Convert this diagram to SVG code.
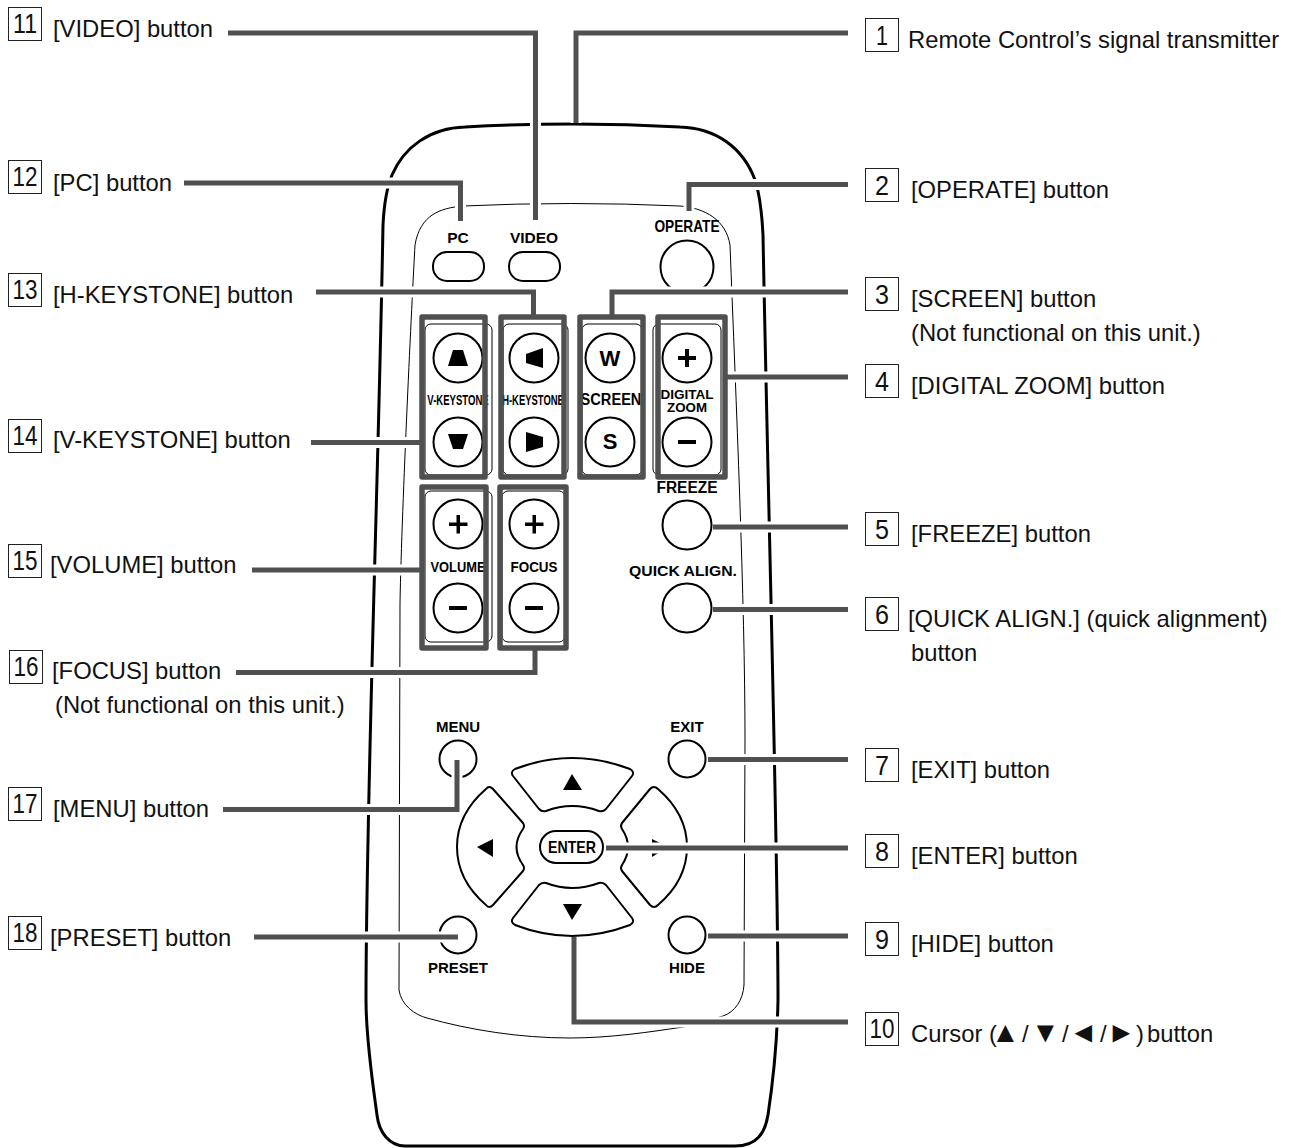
<svg xmlns="http://www.w3.org/2000/svg" width="1297" height="1148" viewBox="0 0 1297 1148">
<style>
text{font-family:"Liberation Sans",Arial,sans-serif;fill:#111}
.l{font-size:23.8px}
.t{font-size:29px}
.n{font-size:27px;text-anchor:middle}
.box{fill:none;stroke:#222;stroke-width:1}
.b{font-weight:bold;text-anchor:middle;fill:#000}
.o{fill:#fff;stroke:#000;stroke-width:2}
.f{fill:#000;stroke:none}
.p{fill:none;stroke:#000;stroke-width:1}
.h{fill:none;stroke:#fff;stroke-width:11}
.c{fill:none;stroke:#505050;stroke-width:5}
.g{fill:none;stroke:#505050;stroke-width:5.5;stroke-linejoin:round}
</style>
<rect width="1297" height="1148" fill="#fff"/>
<g id="body">
<path d="M383,225 C384,205 387,187 392,175 C404,147 430,128 465,127 Q575,121 680,127 C715,128 743,147 755,180 C760,195 762,215 763,235 C768,500 778,850 778,1000 C777,1050 771,1095 768,1115 C765,1133 757,1146 735,1146 L405,1146 C390,1146 379,1133 377,1115 C373,1085 366,1040 366,1000 C366,800 378,500 383,225 Z" fill="none" stroke="#000" stroke-width="3"/>
<path class="p" d="M463,206 Q570,201 680,206 C705,208 726,220 730,245 C736,400 745,600 745,740 L744,985 C743,1000 735,1012 723,1016 C710,1020 700,1024 683,1027 C650,1032 610,1038 570,1038 C520,1038 470,1030 427,1018 C415,1015 401,1005 399,990 L400,603 C402,500 412,300 415,245 C420,215 440,208 463,206 Z"/>
<rect class="p" x="425" y="324" width="67" height="151" rx="6"/>
<rect class="p" x="503" y="324" width="65" height="151" rx="6"/>
<rect class="p" x="582" y="324" width="60" height="151" rx="6"/>
<rect class="p" x="653" y="324" width="68" height="151" rx="6"/>
<rect class="p" x="425" y="491" width="67" height="151" rx="6"/>
<rect class="p" x="502" y="491" width="63" height="151" rx="6"/>
</g>
<g id="btn-pc"><text class="b" x="458" y="243" font-size="15.5">PC</text><rect class="o" x="433" y="252" width="51" height="29" rx="14"/></g>
<g id="btn-video"><text class="b" x="534" y="243" font-size="15.5">VIDEO</text><rect class="o" x="509" y="252" width="51" height="29" rx="14"/></g>
<g id="btn-operate"><text class="b" x="687" y="232" font-size="17" textLength="65" lengthAdjust="spacingAndGlyphs">OPERATE</text><circle class="o" cx="687" cy="267" r="26.5"/></g>
<g id="btn-vkeystone"><circle class="o" cx="458" cy="358" r="24.5"/><path class="f" d="M448,366 L468,366 L463,350 L453,350 Z"/><text class="b" transform="translate(458,405) scale(.636,1)" font-size="15">V-KEYSTONE</text><circle class="o" cx="458" cy="442" r="24.5"/><path class="f" d="M448,434 L468,434 L463,449 L453,449 Z"/></g>
<g id="btn-hkeystone"><circle class="o" cx="534" cy="358" r="24.5"/><path class="f" d="M543,348 L543,368 L526,363 L526,354 Z"/><text class="b" transform="translate(533,405) scale(.63,1)" font-size="15">H-KEYSTONE</text><circle class="o" cx="534" cy="442" r="24.5"/><path class="f" d="M526,432 L543,437 L543,447 L526,452 Z"/></g>
<g id="btn-screen"><circle class="o" cx="610" cy="358" r="24.5"/><text class="b" x="610" y="366" font-size="22">W</text><text class="b" transform="translate(611,405) scale(.913,1)" font-size="16">SCREEN</text><circle class="o" cx="610" cy="442" r="24.5"/><text class="b" x="610" y="449" font-size="22">S</text></g>
<g id="btn-zoom"><circle class="o" cx="687" cy="358" r="24.5"/><path class="f" d="M685,349 h4 v7 h7 v4 h-7 v7 h-4 v-7 h-7 v-4 h7 Z"/><text class="b" x="687" y="399" font-size="12.6" textLength="53" lengthAdjust="spacingAndGlyphs">DIGITAL</text><text class="b" x="687" y="412" font-size="12.6" textLength="40" lengthAdjust="spacingAndGlyphs">ZOOM</text><circle class="o" cx="687" cy="442" r="24.5"/><rect class="f" x="678" y="440" width="18" height="4"/></g>
<g id="btn-volume"><circle class="o" cx="458" cy="524" r="24.5"/><path class="f" d="M456.5,515 h3.5 v7.5 h7.5 v3.5 h-7.5 v7.5 h-3.5 v-7.500 h-7.5 v-3.5 h7.5 Z"/><text class="b" x="458" y="572" font-size="15" textLength="55" lengthAdjust="spacingAndGlyphs">VOLUME</text><circle class="o" cx="458" cy="608" r="24.5"/><rect class="f" x="449" y="606" width="18" height="4"/></g>
<g id="btn-focus"><circle class="o" cx="534" cy="524" r="24.5"/><path class="f" d="M532.5,515 h3.5 v7.5 h7.5 v3.5 h-7.5 v7.5 h-3.5 v-7.500 h-7.5 v-3.5 h7.5 Z"/><text class="b" x="534" y="572" font-size="15" textLength="47" lengthAdjust="spacingAndGlyphs">FOCUS</text><circle class="o" cx="534" cy="608" r="24.5"/><rect class="f" x="525" y="606" width="18" height="4"/></g>
<g id="btn-freeze"><text class="b" x="687" y="493" font-size="16" textLength="61" lengthAdjust="spacingAndGlyphs">FREEZE</text><circle class="o" cx="687" cy="525" r="24.5"/></g>
<g id="btn-quick"><text class="b" x="683" y="576" font-size="15.5" textLength="108" lengthAdjust="spacingAndGlyphs">QUICK ALIGN.</text><circle class="o" cx="687" cy="608" r="24.5"/></g>
<g id="btn-menu"><text class="b" x="458" y="732" font-size="15">MENU</text><circle class="o" cx="458" cy="759" r="18.5"/></g>
<g id="btn-exit"><text class="b" x="687" y="732" font-size="15">EXIT</text><circle class="o" cx="687" cy="759" r="18.5"/></g>
<g id="btn-preset"><circle class="o" cx="458" cy="935" r="18.5"/><text class="b" x="458" y="973" font-size="15">PRESET</text></g>
<g id="btn-hide"><circle class="o" cx="687" cy="935" r="18.5"/><text class="b" x="687" y="973" font-size="15">HIDE</text></g>
<g id="btn-cursor">
<path class="o" stroke-linejoin="round" d="M515,769 Q572,747 630,769 Q635,772 632,776 L606,809 Q603,812 599,811 Q572,801 546,811 Q542,812 539,809 L513,776 Q510,772 515,769 Z"/>
<path class="f" d="M563,790 L582,790 L572,774 Z"/>
<path class="o" stroke-linejoin="round" d="M515,925 Q572,947 630,925 Q635,922 632,918 L606,885 Q603,882 599,883 Q572,893 546,883 Q542,882 539,885 L513,918 Q510,922 515,925 Z"/>
<path class="f" d="M563,904 L582,904 L572,920 Z"/>
<path class="o" stroke-linejoin="round" d="M486,789 Q489,785 493,789 L523,823 Q525,826 523,829 Q510,847 523,865 Q525,868 523,871 L493,905 Q489,909 486,905 Q457,880 457,847 Q457,814 486,789 Z"/>
<path class="f" d="M477,847 L493,839 L493,857 Z"/>
<path class="o" stroke-linejoin="round" d="M658,789 Q654,785 650,789 L622,823 Q620,826 622,829 Q634,847 622,865 Q620,868 622,871 L650,905 Q654,909 658,905 Q687,880 687,847 Q687,814 658,789 Z"/>
<path class="f" d="M652,839 L668,847 L652,857 Z"/>
</g>
<g id="btn-enter"><rect class="o" x="540" y="831" width="63" height="32" rx="16"/><text class="b" x="572" y="853" font-size="17" textLength="48" lengthAdjust="spacingAndGlyphs">ENTER</text></g>
<g id="connectors">
<g id="halos">
<path class="h" d="M228,33 H535.5 V220"/>
<path class="h" d="M848,33 H576 V123"/>
<path class="h" d="M184,183 H460.5 V221"/>
<path class="h" d="M848,184.500 H689 V211"/>
<path class="h" d="M316,292 H533.500 V317"/>
<path class="h" d="M848,292 H612 V317"/>
<path class="h" d="M848,377 H725"/>
<path class="h" d="M311,442.500 H422"/>
<path class="h" d="M848,527 H713"/>
<path class="h" d="M848,609.500 H713"/>
<path class="h" d="M252,570 H422"/>
<path class="h" d="M236,672.500 H535 V648"/>
<path class="h" d="M848,759.500 H708"/>
<path class="h" d="M223,809.500 H457 V760"/>
<path class="h" d="M848,848 H606"/>
<path class="h" d="M254,937 H458"/>
<path class="h" d="M848,936 H708"/>
<path class="h" d="M848,1022 H574 V937"/>
</g>
<g id="frames">
<rect class="g" x="422" y="317" width="63" height="160"/>
<rect class="g" x="501" y="317" width="63" height="160"/>
<rect class="g" x="580" y="317" width="63" height="160"/>
<rect class="g" x="658" y="317" width="67" height="160"/>
<rect class="g" x="422" y="487" width="64" height="161"/>
<rect class="g" x="500" y="487" width="66" height="161"/>
</g>
<path class="c" d="M228,33 H535.5 V220"/>
<path class="c" d="M848,33 H576 V123"/>
<path class="c" d="M184,183 H460.5 V221"/>
<path class="c" d="M848,184.500 H689 V211"/>
<path class="c" d="M316,292 H533.500 V317"/>
<path class="c" d="M848,292 H612 V317"/>
<path class="c" d="M848,377 H725"/>
<path class="c" d="M311,442.500 H422"/>
<path class="c" d="M848,527 H713"/>
<path class="c" d="M848,609.500 H713"/>
<path class="c" d="M252,570 H422"/>
<path class="c" d="M236,672.500 H535 V648"/>
<path class="c" d="M848,759.500 H708"/>
<path class="c" d="M223,809.500 H457 V760"/>
<path class="c" d="M848,848 H606"/>
<path class="c" d="M254,937 H458"/>
<path class="c" d="M848,936 H708"/>
<path class="c" d="M848,1022 H574 V937"/>
</g>
<g id="c1"><rect class="box" x="865.500" y="18.500" width="33" height="33"/><text class="n" x="882" y="45" textLength="12" lengthAdjust="spacingAndGlyphs">1</text><text class="l" x="908" y="48">Remote Control’s signal transmitter</text></g>
<g id="c2"><rect class="box" x="865.500" y="168.500" width="33" height="33"/><text class="n" x="882" y="195" textLength="14" lengthAdjust="spacingAndGlyphs">2</text><text class="l" x="911" y="198">[OPERATE] button</text></g>
<g id="c3"><rect class="box" x="865.500" y="277.500" width="33" height="33"/><text class="n" x="882" y="304" textLength="14" lengthAdjust="spacingAndGlyphs">3</text><text class="l" x="911" y="307">[SCREEN] button</text><text class="l" x="911" y="341">(Not functional on this unit.)</text></g>
<g id="c4"><rect class="box" x="865.500" y="364.500" width="33" height="33"/><text class="n" x="882" y="391" textLength="14" lengthAdjust="spacingAndGlyphs">4</text><text class="l" x="911" y="394">[DIGITAL ZOOM] button</text></g>
<g id="c5"><rect class="box" x="865.500" y="512.500" width="33" height="33"/><text class="n" x="882" y="539" textLength="14" lengthAdjust="spacingAndGlyphs">5</text><text class="l" x="911" y="542">[FREEZE] button</text></g>
<g id="c6"><rect class="box" x="865.500" y="597.500" width="33" height="33"/><text class="n" x="882" y="624" textLength="14" lengthAdjust="spacingAndGlyphs">6</text><text class="l" x="908" y="627">[QUICK ALIGN.] (quick alignment)</text><text class="l" x="911" y="661">button</text></g>
<g id="c7"><rect class="box" x="865.500" y="748.500" width="33" height="33"/><text class="n" x="882" y="775" textLength="14" lengthAdjust="spacingAndGlyphs">7</text><text class="l" x="911" y="778">[EXIT] button</text></g>
<g id="c8"><rect class="box" x="865.500" y="834.500" width="33" height="33"/><text class="n" x="882" y="861" textLength="14" lengthAdjust="spacingAndGlyphs">8</text><text class="l" x="911" y="864">[ENTER] button</text></g>
<g id="c9"><rect class="box" x="865.500" y="922.500" width="33" height="33"/><text class="n" x="882" y="949" textLength="14" lengthAdjust="spacingAndGlyphs">9</text><text class="l" x="911" y="952">[HIDE] button</text></g>
<g id="c10"><rect class="box" x="865.500" y="1012.500" width="33" height="33"/><text class="n" x="882" y="1038" textLength="25" lengthAdjust="spacingAndGlyphs">10</text><text class="l" x="911" y="1042">Cursor (<tspan class="t" x="991">▲</tspan> <tspan x="1022">/</tspan> <tspan class="t" x="1031">▼</tspan> <tspan x="1062">/</tspan> <tspan class="t" x="1069">◄</tspan> <tspan x="1100">/</tspan> <tspan class="t" x="1107">►</tspan><tspan x="1136">)</tspan> <tspan x="1147">button</tspan></text></g>
<g id="c11"><rect class="box" x="8.500" y="7.500" width="33" height="33"/><text class="n" x="25" y="33" textLength="24" lengthAdjust="spacingAndGlyphs">11</text><text class="l" x="53" y="37">[VIDEO] button</text></g>
<g id="c12"><rect class="box" x="8.500" y="160.500" width="33" height="33"/><text class="n" x="25" y="186" textLength="25" lengthAdjust="spacingAndGlyphs">12</text><text class="l" x="53" y="191">[PC] button</text></g>
<g id="c13"><rect class="box" x="8.500" y="273.500" width="33" height="33"/><text class="n" x="25" y="299" textLength="25" lengthAdjust="spacingAndGlyphs">13</text><text class="l" x="53" y="303">[H-KEYSTONE] button</text></g>
<g id="c14"><rect class="box" x="8.500" y="419.500" width="33" height="33"/><text class="n" x="25" y="445" textLength="25" lengthAdjust="spacingAndGlyphs">14</text><text class="l" x="53" y="448">[V-KEYSTONE] button</text></g>
<g id="c15"><rect class="box" x="8.500" y="544.500" width="33" height="33"/><text class="n" x="25" y="570" textLength="25" lengthAdjust="spacingAndGlyphs">15</text><text class="l" x="50" y="573">[VOLUME] button</text></g>
<g id="c16"><rect class="box" x="9.500" y="650.500" width="33" height="33"/><text class="n" x="26" y="676" textLength="25" lengthAdjust="spacingAndGlyphs">16</text><text class="l" x="52" y="679">[FOCUS] button</text><text class="l" x="55" y="713">(Not functional on this unit.)</text></g>
<g id="c17"><rect class="box" x="8.500" y="787.500" width="33" height="33"/><text class="n" x="25" y="813" textLength="25" lengthAdjust="spacingAndGlyphs">17</text><text class="l" x="53" y="817">[MENU] button</text></g>
<g id="c18"><rect class="box" x="8.500" y="916.500" width="33" height="33"/><text class="n" x="25" y="942" textLength="25" lengthAdjust="spacingAndGlyphs">18</text><text class="l" x="50" y="946">[PRESET] button</text></g>
</svg>
